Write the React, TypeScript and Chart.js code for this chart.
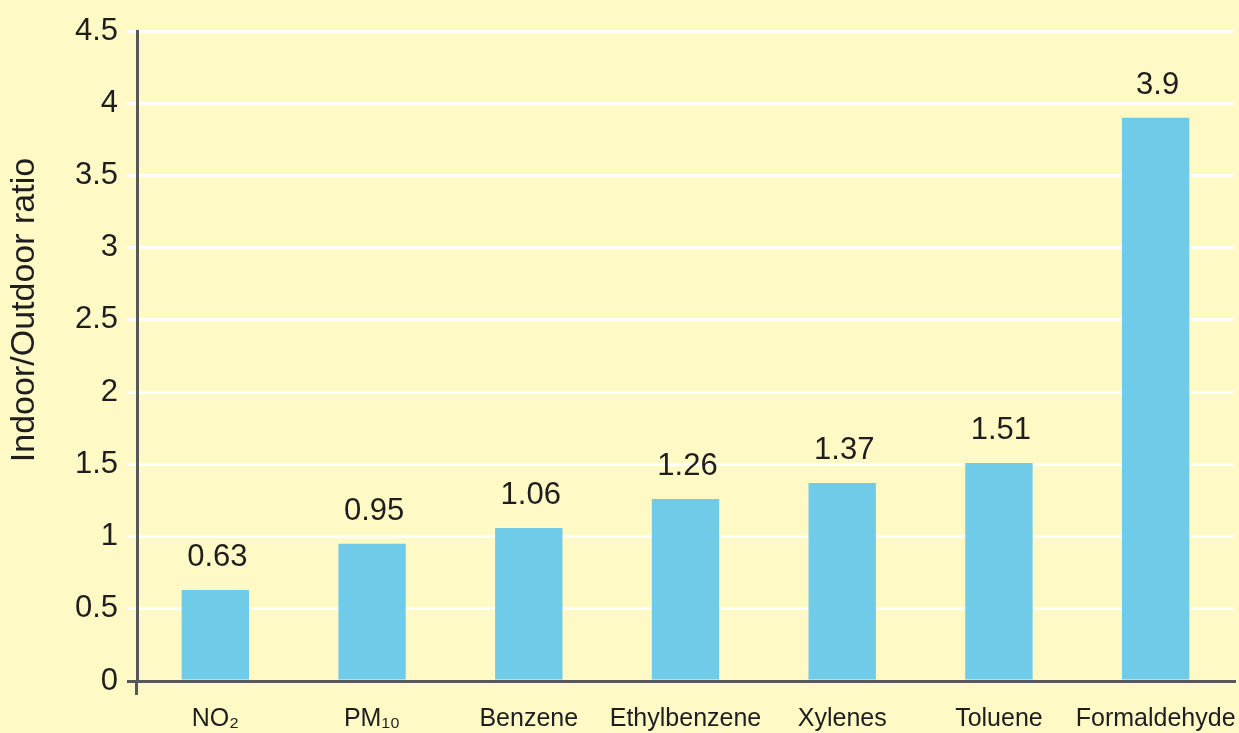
import { useEffect, useRef } from "react";
import { Chart, registerables } from "chart.js";

Chart.register(...registerables);

const categories = ["NO₂", "PM₁₀", "Benzene", "Ethylbenzene", "Xylenes", "Toluene", "Formaldehyde"];
const ratios = [0.63, 0.95, 1.06, 1.26, 1.37, 1.51, 3.9];
const yMin = 0;
const yMax = 4.5;
const yStep = 0.5;
const yTitle = "Indoor/Outdoor ratio";

const BG = "#FFF9C5";
const BAR = "#70CBE8";
const AXIS = "#58585C";
const TEXT = "#1E1E1E";
const FONT = '"Liberation Sans", Arial, sans-serif';

const valueLabels = {
  id: "valueLabels",
  afterDatasetsDraw(chart: any) {
    const ctx = chart.ctx;
    const meta = chart.getDatasetMeta(0);
    ctx.save();
    ctx.font = `31px ${FONT}`;
    ctx.fillStyle = TEXT;
    ctx.textAlign = "center";
    ctx.textBaseline = "alphabetic";
    meta.data.forEach((bar: any, i: number) => {
      ctx.fillText(String(ratios[i]), bar.x + 2, bar.y - 24);
    });
    ctx.restore();
  },
};

const yTitlePlugin = {
  id: "yTitlePlugin",
  afterDraw(chart: any) {
    const ctx = chart.ctx;
    ctx.save();
    ctx.translate(25, 310);
    ctx.rotate(-Math.PI / 2);
    ctx.font = `34px ${FONT}`;
    ctx.fillStyle = TEXT;
    ctx.textAlign = "center";
    ctx.textBaseline = "middle";
    ctx.fillText(yTitle, 0, 0);
    ctx.restore();
  },
};

export default function App() {
  const ref = useRef<HTMLCanvasElement | null>(null);
  useEffect(() => {
    if (!ref.current) return;
    Chart.defaults.font.family = FONT;
    const chart = new Chart(ref.current, {
      type: "bar",
      data: {
        labels: categories,
        datasets: [
          {
            data: ratios,
            backgroundColor: BAR,
            borderWidth: 0,
            barPercentage: 0.43,
            categoryPercentage: 1,
          },
        ],
      },
      options: {
        animation: false,
        responsive: true,
        maintainAspectRatio: false,
        layout: { padding: { top: 31, right: 5, left: 0, bottom: 0 } },
        plugins: { legend: { display: false }, tooltip: { enabled: false } },
        scales: {
          x: {
            afterFit: (s: any) => {
              s.height = 52;
              s.paddingLeft = 0;
              s.paddingRight = 0;
            },
            grid: {
              drawOnChartArea: false,
              drawTicks: true,
              tickLength: 14,
              lineWidth: 3,
              color: (c: any) => (c.index === 0 ? AXIS : "rgba(0,0,0,0)"),
            },
            border: { display: true, color: AXIS, width: 3 },
            ticks: { color: TEXT, font: { size: 25, family: FONT }, padding: 9, maxRotation: 0, autoSkip: false },
          },
          y: {
            min: yMin,
            max: yMax,
            afterFit: (s: any) => {
              s.width = 137;
              s.paddingTop = 0;
              s.paddingBottom = 0;
            },
            grid: {
              lineWidth: 3,
              tickLength: 10,
              color: (c: any) => (c.tick && c.tick.value === 0 ? AXIS : "#FFFFFF"),
            },
            border: { display: true, color: AXIS, width: 3 },
            ticks: {
              stepSize: yStep,
              color: TEXT,
              font: { size: 31, family: FONT },
              padding: 9,
              callback: (v: any) => String(Number(v)),
            },
          },
        },
      },
      plugins: [valueLabels, yTitlePlugin],
    });
    return () => chart.destroy();
  }, []);
  return (
    <div style={{ position: "fixed", left: 0, top: 0, width: 1239, height: 733, background: BG }}>
      <canvas ref={ref} />
    </div>
  );
}
